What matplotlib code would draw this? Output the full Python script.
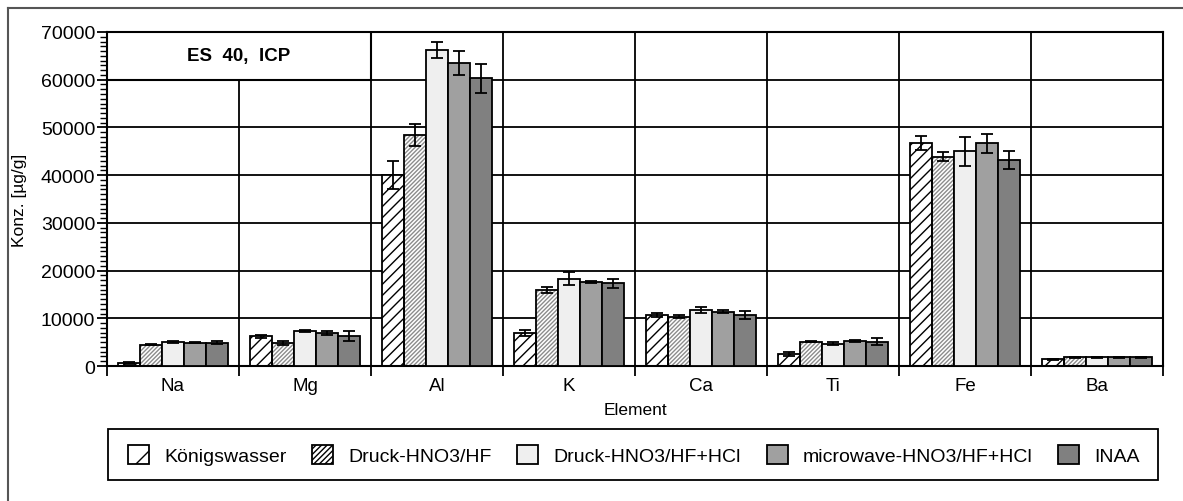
import numpy as np
import matplotlib
matplotlib.use('Agg')
from matplotlib import pyplot as plt
from matplotlib.patches import Rectangle, Patch
from matplotlib.lines import Line2D

plt.rcParams['font.family'] = ['Liberation Sans', 'DejaVu Sans']

elements = ['Na', 'Mg', 'Al', 'K', 'Ca', 'Ti', 'Fe', 'Ba']
methods = ['Königswasser', 'Druck-HNO3/HF', 'Druck-HNO3/HF+HCl',
           'microwave-HNO3/HF+HCl', 'INAA']

koenigswasser = [700, 6250, 40000, 6900, 10700, 2430, 46700, 1450]
druck_hf = [4500, 4900, 48500, 15950, 10330, 5130, 43900, 1800]
druck_hf_hcl = [5000, 7300, 66300, 18300, 11730, 4710, 45000, 1800]
microwave = [4900, 7000, 63500, 17600, 11380, 5200, 46700, 1800]
inaa = [4900, 6250, 60300, 17300, 10700, 5130, 43100, 1800]

koenigswasser_err = [200, 300, 3000, 700, 500, 400, 1500, 100]
druck_hf_err = [200, 400, 2300, 700, 300, 100, 1000, 50]
druck_hf_hcl_err = [250, 150, 1700, 1300, 600, 300, 3000, 50]
microwave_err = [150, 400, 2500, 200, 300, 200, 2000, 50]
inaa_err = [250, 1100, 3000, 900, 900, 700, 1900, 50]

title_text = 'ES  40,  ICP'


def main():
    W, H = 1183, 502
    fig = plt.figure(figsize=(W / 100, H / 100), dpi=100)
    ax = fig.add_axes([107 / W, 1 - 367 / H, (1163 - 107) / W, (367 - 33) / H])

    series = [koenigswasser, druck_hf, druck_hf_hcl, microwave, inaa]
    errors = [koenigswasser_err, druck_hf_err, druck_hf_hcl_err, microwave_err, inaa_err]
    # face colour, hatch, hatch colour
    styles = [('white', '///', 'black'),
              ('white', '////////', '#8c8c8c'),
              ('#efefef', '', None),
              ('#a0a0a0', '', None),
              ('#808080', '', None)]
    legend_hatch = ['/', '//////', '', '', '']

    x = np.arange(len(elements))
    bw = 0.166
    offsets = (np.arange(len(methods)) - 2) * bw

    for vals, errs, off, (fc, hatch, hc) in zip(series, errors, offsets, styles):
        if hatch:
            ax.bar(x + off, vals, bw, color=fc, edgecolor=hc, hatch=hatch,
                   linewidth=0, zorder=2)
            ax.bar(x + off, vals, bw, fill=False, edgecolor='black',
                   linewidth=1.3, zorder=3)
        else:
            ax.bar(x + off, vals, bw, color=fc, edgecolor='black',
                   linewidth=1.3, zorder=3)
        ax.errorbar(x + off, vals, yerr=errs, fmt='none', ecolor='black',
                    elinewidth=1.3, capsize=4, capthick=1.3, zorder=4)

    ax.set_xlim(-0.5, len(elements) - 0.5)
    ax.set_ylim(0, 70000)

    ax.set_xticks(x)
    ax.set_xticklabels(elements, fontsize=13.5)
    ax.set_xticks(np.arange(len(elements) + 1) - 0.5, minor=True)
    ax.tick_params(axis='x', which='major', length=0, pad=8)
    ax.tick_params(axis='x', which='minor', length=7, width=1.3, direction='out')

    ax.set_yticks(np.arange(0, 70001, 10000))
    ax.set_yticklabels([str(v) for v in range(0, 70001, 10000)], fontsize=14)
    ax.set_yticks(np.arange(0, 70001, 1000), minor=True)
    ax.tick_params(axis='y', which='major', length=7, width=1.3, pad=1.5)
    ax.tick_params(axis='y', which='minor', length=5, width=1.0)

    ax.grid(axis='y', which='major', color='black', linewidth=1.3)
    ax.grid(axis='x', which='minor', color='black', linewidth=1.3)
    ax.set_axisbelow(True)
    for s in ax.spines.values():
        s.set_linewidth(1.5)

    ax.set_ylabel('Konz. [µg/g]', fontsize=12.5, labelpad=4)
    ax.set_xlabel('Element', fontsize=12.5, labelpad=6)
    ax.yaxis.set_label_coords(-80 / (1163 - 107), 0.5)

    # title box in the upper left corner
    ax.add_patch(Rectangle((-0.5, 60000), 2, 10000, facecolor='white',
                           edgecolor='black', linewidth=1.5, zorder=5))
    ax.text(0.5, 65000, title_text, ha='center', va='center',
            fontsize=13.5, fontweight='bold', zorder=6)

    # legend with its own frame
    fig.add_artist(Rectangle((108 / W, 1 - 481 / H), (1158 - 108) / W, 51 / H,
                             transform=fig.transFigure, facecolor='white',
                             edgecolor='black', linewidth=1.3))
    handles = []
    for (fc, hatch, hc), lh in zip(styles, legend_hatch):
        handles.append(Patch(facecolor=fc, edgecolor='black', hatch=lh,
                             linewidth=1.3))
    fig.legend(handles, methods, loc='center left', ncol=5, frameon=False,
               bbox_to_anchor=(128 / W, 1 - 456 / H), fontsize=14,
               handlelength=1.08, handleheight=1.08, handletextpad=0.77,
               columnspacing=1.33, borderpad=0, borderaxespad=0)

    # outer frame (left and top)
    fig.add_artist(Line2D([8 / W, 8 / W], [0, 1 - 9 / H], color='#555555',
                          linewidth=1.5, transform=fig.transFigure))
    fig.add_artist(Line2D([8 / W, 1], [1 - 9 / H, 1 - 9 / H], color='#555555',
                          linewidth=1.5, transform=fig.transFigure))

    fig.savefig('out.png', dpi=100)


if __name__ == '__main__':
    main()
